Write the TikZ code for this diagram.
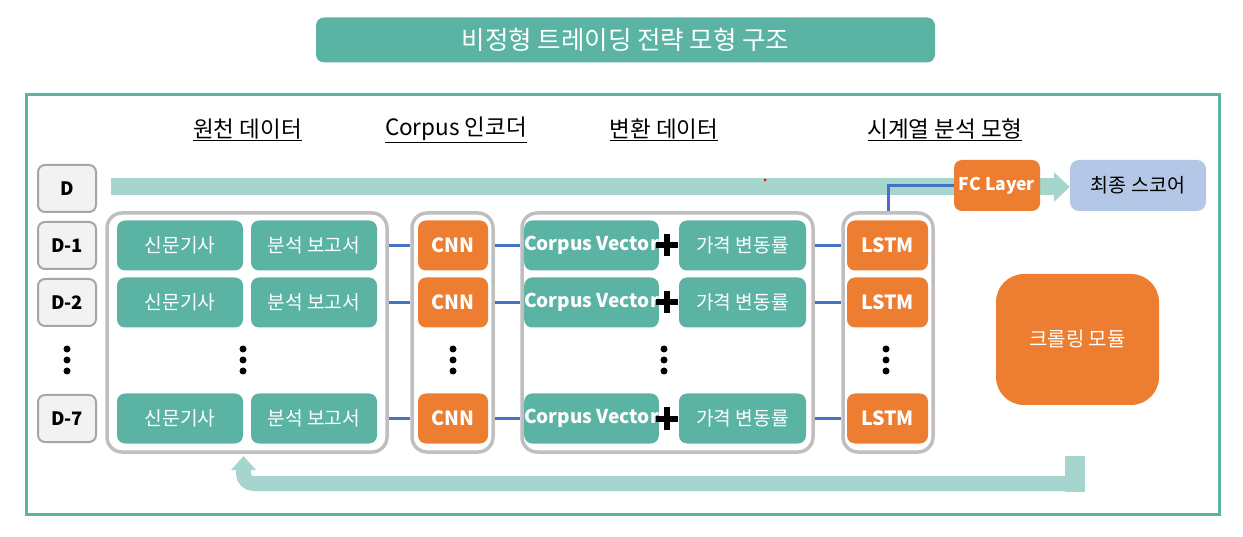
\documentclass[tikz,border=0pt]{standalone}
\usepackage{fontspec}
\setmainfont{Noto Sans CJK KR}
\usetikzlibrary{arrows.meta, positioning, backgrounds}

\definecolor{tealfill}{HTML}{5BB3A4}
\definecolor{orangefill}{HTML}{ED7D31}
\definecolor{arrowteal}{HTML}{A5D5CC}
\definecolor{linkblue}{HTML}{4472C4}
\definecolor{groupgray}{HTML}{BFBFBF}
\definecolor{dayfill}{HTML}{F2F2F2}
\definecolor{dayline}{HTML}{A6A6A6}
\definecolor{scoreblue}{HTML}{B4C7E7}

\newcommand{\dotstack}[1]{\fill (#1) ++(0,-11) circle (3.5) ++(0,11) circle (3.5) ++(0,11) circle (3.5);}

\tikzset{
  tealbox/.style={fill=tealfill, text=white, rounded corners=8pt, minimum height=50pt, inner sep=0pt, font=\fontsize{19.2}{22}\selectfont},
  orangebox/.style={fill=orangefill, text=white, rounded corners=8pt, minimum height=50pt, inner sep=0pt, font=\fontsize{19.5}{22}\selectfont\bfseries},
  daybox/.style={draw=dayline, line width=2pt, fill=dayfill, rounded corners=7pt, minimum width=58pt, minimum height=47pt, inner sep=0pt, font=\fontsize{18.5}{22}\selectfont\bfseries},
  groupbox/.style={draw=groupgray, line width=3.5pt, fill=white, rounded corners=15pt, inner sep=0pt},
  header/.style={inner sep=0pt, font=\fontsize{22.5}{26}\selectfont},
  link/.style={draw=linkblue, line width=3pt},
  flowbar/.style={draw=arrowteal, line width=17pt}
}

\begin{document}
\begin{tikzpicture}[x=1pt, y=-1pt]
  \useasboundingbox (0,0) rectangle (1243,537);

  % title and frame
  \node[fill=tealfill, rounded corners=8pt, minimum width=619pt, minimum height=45pt, text=white, font=\fontsize{25.5}{30}\selectfont] (title) at (625.5,40) {비정형 트레이딩 전략 모형 구조};
  \draw[tealfill, line width=3pt] (26,95) rectangle (1219,514);

  % column headers
  \node[header] (hsrc) at (247.5,130) {\underline{원천 데이터}};
  \node[header] (henc) at (456,130) {\underline{Corpus 인코더}};
  \node[header] (hconv) at (664,130) {\underline{변환 데이터}};
  \node[header] (hts) at (945,130) {\underline{시계열 분석 모형}};

  % day labels
  \node[daybox] (d0) at (67,188.5) {D};
  \node[daybox] (d1) at (67,245.5) {D-1};
  \node[daybox] (d2) at (67,302.5) {D-2};
  \node[daybox] (d7) at (67,418.5) {D-7};
  \dotstack{67,360}

  % group frames
  \node[groupbox, minimum width=280pt, minimum height=239pt] (srcgrp) at (247,332.5) {};
  \node[groupbox, minimum width=81pt, minimum height=239pt] (encgrp) at (452.5,332.5) {};
  \node[groupbox, minimum width=291pt, minimum height=239pt] (convgrp) at (667.5,332.5) {};
  \node[groupbox, minimum width=90pt, minimum height=239pt] (tsgrp) at (888,332.5) {};

  % rows
  \foreach \r/\y in {1/245.5, 2/302.5, 7/418.5} {
    \node[tealbox, minimum width=126pt] (news\r) at (180,\y) {신문기사};
    \node[tealbox, minimum width=126pt] (rep\r) at (314,\y) {분석 보고서};
    \node[orangebox, minimum width=70pt] (cnn\r) at (453,\y) {CNN};
    \node[tealbox, minimum width=127pt, font=\fontsize{19}{22}\selectfont\bfseries] (vec\r) at (591.5,\y) {Corpus Vector};
    \node[tealbox, minimum width=127pt] (price\r) at (742.5,\y) {가격 변동률};
    \node[orangebox, minimum width=81pt] (lstm\r) at (887.5,\y) {LSTM};
    \draw[line width=6pt] (656,\y) -- (678,\y) (667,\y-11) -- (667,\y+11);
    \draw[link] (rep\r -| srcgrp.east) -- (cnn\r -| encgrp.west);
    \draw[link] (cnn\r -| encgrp.east) -- (vec\r -| convgrp.west);
    \draw[link] (price\r -| convgrp.east) -- (lstm\r -| tsgrp.west);
  }
  \dotstack{243,360}
  \dotstack{453,360}
  \dotstack{664,360}
  \dotstack{886,360}

  % output side
  \node[orangebox, minimum width=86pt, minimum height=51pt, font=\fontsize{17.5}{22}\selectfont\bfseries] (fc) at (997,185.5) {FC Layer};
  \node[fill=scoreblue, rounded corners=9pt, minimum width=136pt, minimum height=51pt, font=\fontsize{19.5}{22}\selectfont] (score) at (1138,185.5) {최종 스코어};
  \node[fill=orangefill, text=white, rounded corners=28pt, minimum width=163pt, minimum height=131pt, font=\fontsize{20}{22}\selectfont] (crawl) at (1077.5,339.5) {크롤링 모듈};
  \draw[link] (tsgrp.north) |- (fc.west);

  % flow arrows
  \coordinate (barstart) at (111,187);
  \coordinate (loopstart) at (1075,483.5);
  \coordinate (loopend) at (243.5,456);
  \begin{pgfonlayer}{background}
    \draw[flowbar, -{Triangle[length=16pt,width=29pt]}] (barstart) -- (barstart -| score.west);
    \fill[arrowteal] (1065,456) rectangle (1085,492);
    \draw[flowbar, line width=15pt, rounded corners=10pt, -{Triangle[length=14pt,width=24pt]}] (loopstart) -- (loopstart -| loopend) -- (loopend);
  \end{pgfonlayer}
  \fill[red] (765,180) circle (1.5);
\end{tikzpicture}
\end{document}
